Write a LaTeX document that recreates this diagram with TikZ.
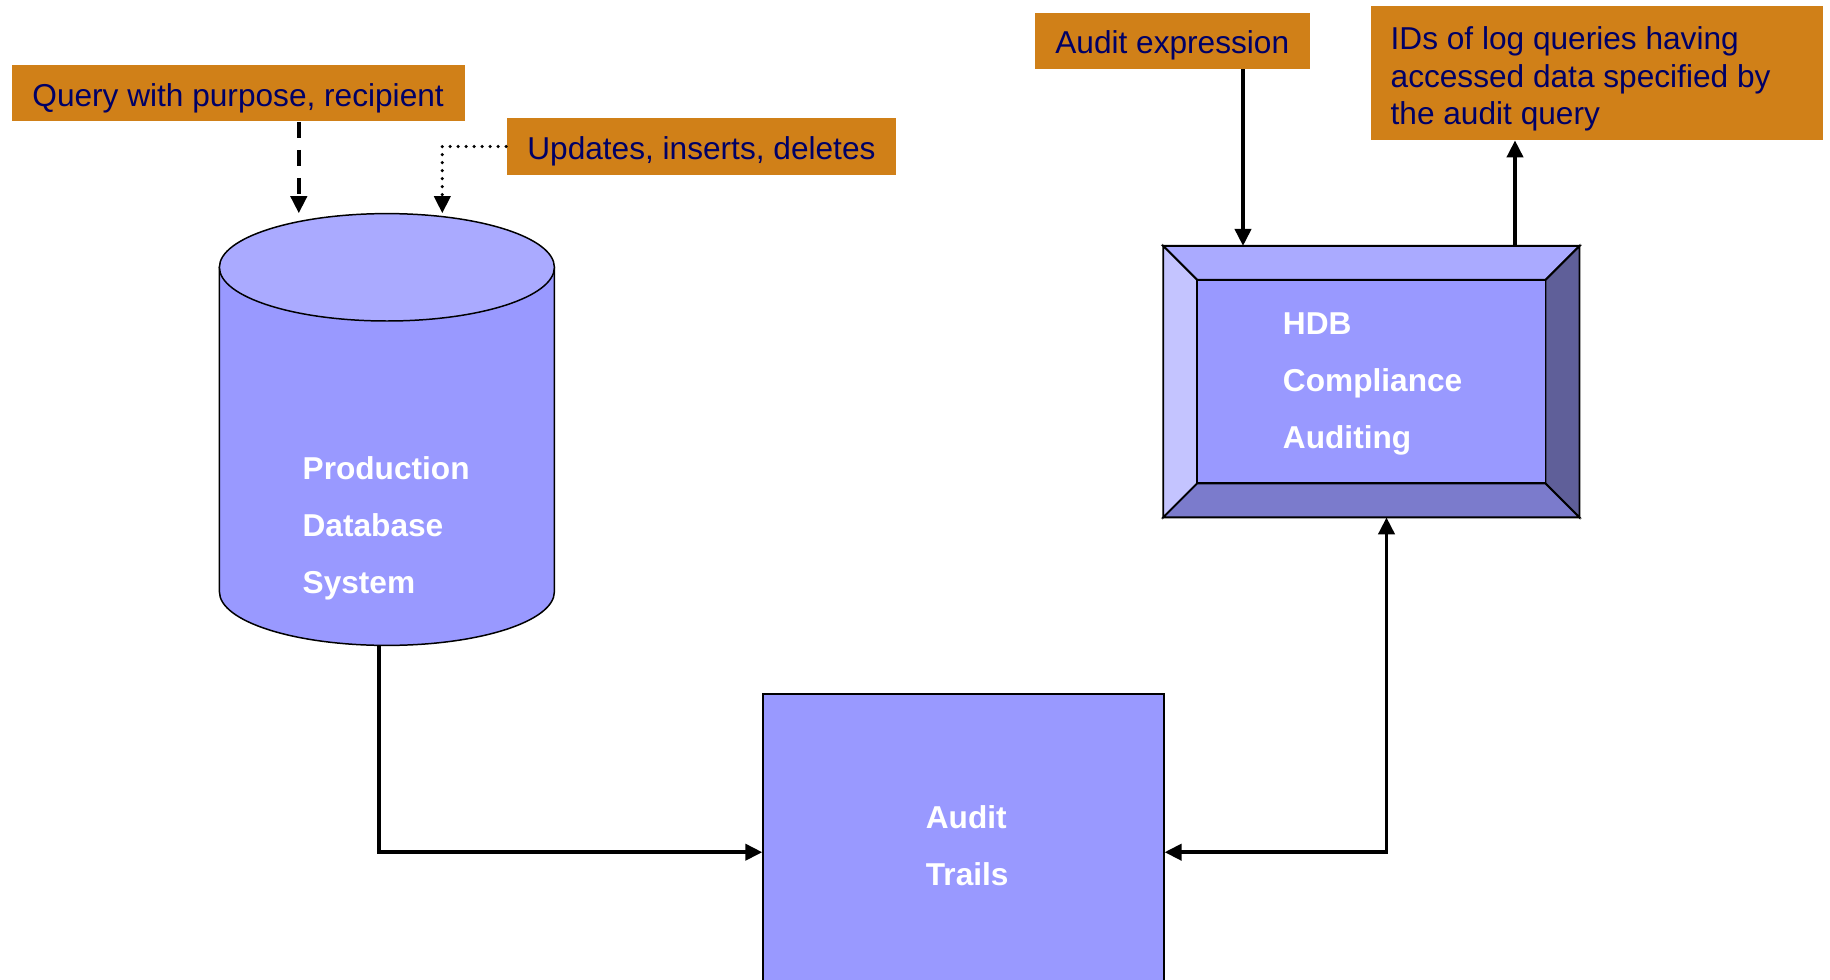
\documentclass[tikz,border=0pt]{standalone}
\usepackage{fontspec}
\setmainfont{Liberation Sans}
\usetikzlibrary{arrows.meta}

\definecolor{tagorange}{RGB}{208,128,24}
\definecolor{tagnavy}{RGB}{0,0,102}
\definecolor{boxblue}{RGB}{153,153,255}
\definecolor{bevtop}{RGB}{170,170,255}
\definecolor{bevleft}{RGB}{196,196,255}
\definecolor{bevright}{RGB}{95,95,153}
\definecolor{bevbottom}{RGB}{123,123,204}

\tikzset{
  tagbox/.style={fill=tagorange, text=tagnavy, font=\fontsize{18}{21.5}\selectfont, inner sep=0pt, text height=0.64cm, text depth=0.13cm},
  whitetext/.style={text=white, font=\bfseries\fontsize{18}{32.4}\selectfont, align=left, inner sep=0pt, anchor=west},
  flow/.style={line width=2.2pt, >={Triangle[length=0.34cm,width=0.32cm]}},
}

\begin{document}
\begin{tikzpicture}
  \clip (0cm,0cm) rectangle (36.6cm,-19.6cm);
  \fill[white] (0cm,0cm) rectangle (36.6cm,-19.6cm);

  \node[tagbox, minimum width=9.056cm, minimum height=1.12cm] (query) at (4.762cm,-1.868cm) {Query with purpose, recipient};
  \node[tagbox, minimum width=7.796cm, minimum height=1.144cm] (upd) at (14.028cm,-2.93cm) {Updates, inserts, deletes};
  \node[tagbox, minimum width=5.49cm, minimum height=1.122cm] (aexpr) at (23.445cm,-0.817cm) {Audit expression};
  \node[fill=tagorange, inner sep=0pt, minimum width=9.034cm, minimum height=2.684cm] (ids) at (31.943cm,-1.458cm) {};
  \node[text=tagnavy, font=\fontsize{18}{21.5}\selectfont, align=left, inner sep=0pt, anchor=north west] (idstxt) at (27.806cm,-0.52cm) {IDs of log queries having\\accessed data specified by\\the audit query};

  \node[minimum width=6.7cm, minimum height=8.636cm, inner sep=0pt] (db) at (7.738cm,-8.59cm) {};
  \filldraw[fill=boxblue, line width=0.85pt] (4.388cm,-5.346cm) -- (4.388cm,-11.834cm) arc[start angle=180, end angle=360, x radius=3.35cm, y radius=1.074cm] -- (11.088cm,-5.346cm) -- cycle;
  \filldraw[fill=bevtop, line width=0.85pt] (7.738cm,-5.346cm) ellipse[x radius=3.35cm, y radius=1.074cm];
  \node[whitetext] (dbtxt) at (6.046cm,-10.574cm) {Production\\Database\\System};

  \node[minimum width=8.31cm, minimum height=5.414cm, inner sep=0pt] (hdb) at (27.427cm,-7.633cm) {};
  \node[minimum width=6.95cm, minimum height=4.054cm, inner sep=0pt] (hdbin) at (hdb.center) {};
  \filldraw[fill=bevtop, line width=1.1pt] (hdb.north west) -- (hdb.north east) -- (hdbin.north east) -- (hdbin.north west) -- cycle;
  \filldraw[fill=bevleft, line width=1.1pt] (hdb.north west) -- (hdbin.north west) -- (hdbin.south west) -- (hdb.south west) -- cycle;
  \filldraw[fill=bevright, line width=1.1pt] (hdb.north east) -- (hdb.south east) -- (hdbin.south east) -- (hdbin.north east) -- cycle;
  \filldraw[fill=bevbottom, line width=1.1pt] (hdb.south west) -- (hdb.south east) -- (hdbin.south east) -- (hdbin.south west) -- cycle;
  \filldraw[fill=boxblue, line width=1.1pt] (hdbin.south west) rectangle (hdbin.north east);
  \node[whitetext] (hdbtxt) at (25.652cm,-7.68cm) {HDB\\Compliance\\Auditing};

  \node[draw, fill=boxblue, line width=1.1pt, minimum width=8.006cm, minimum height=6.312cm, inner sep=0pt] (trail) at (19.269cm,-17.044cm) {};
  \node[whitetext] (trailtxt) at (18.51cm,-16.91cm) {Audit\\Trails};

  \coordinate (qa) at ([xshift=1.214cm]query.south);
  \draw[flow, ->, dash pattern=on 0.333cm off 0.227cm] (qa) -- (qa |- db.north);
  \draw[flow, ->, line width=2pt, line cap=round, dash pattern=on 0pt off 0.16cm] (upd.west) -| ([xshift=1.108cm]db.north);
  \coordinate (dbout) at ([xshift=-0.152cm]db.south);
  \draw[flow, ->] (dbout) |- (trail.west);
  \draw[flow, <->] (trail.east) -| ([xshift=0.303cm]hdb.south);
  \coordinate (ae) at ([xshift=1.415cm]aexpr.south);
  \draw[flow, ->] (ae) -- (ae |- hdb.north);
  \coordinate (ia) at ([xshift=2.873cm]hdb.north);
  \draw[flow, ->] (ia) -- (ia |- ids.south);
\end{tikzpicture}
\end{document}
